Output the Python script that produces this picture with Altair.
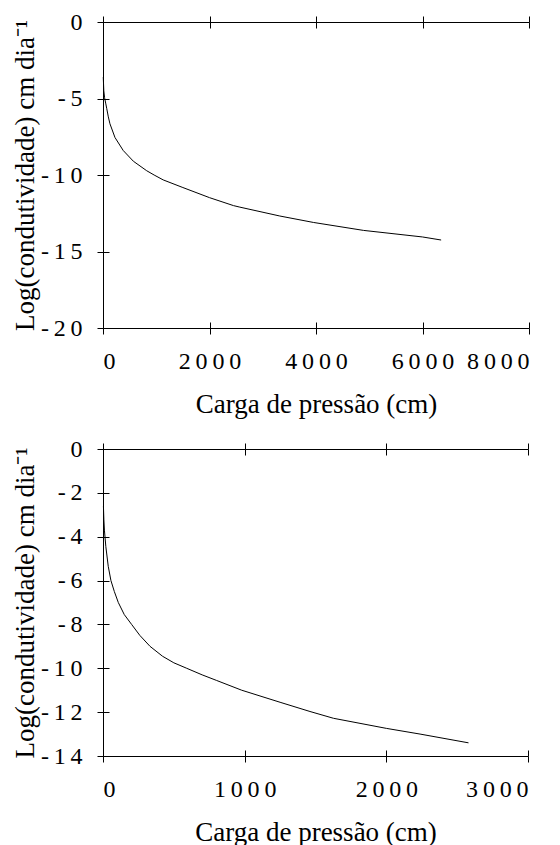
import altair as alt
import pandas as pd

# ---- data ----
top_pressure = [5, 15, 30, 50, 70, 100, 130, 225, 380, 570, 820, 960, 1130, 1500, 2000, 2450, 2570, 3320, 3950, 4890, 6000, 6350]
top_logk = [-3.6, -4.5, -4.95, -5.3, -5.65, -6.2, -6.65, -7.55, -8.4, -9.1, -9.72, -10.0, -10.32, -10.82, -11.48, -12.0, -12.1, -12.68, -13.1, -13.62, -14.05, -14.25]

bot_pressure = [3, 6, 10, 20, 37, 56, 80, 108, 150, 202, 260, 332, 420, 500, 591, 700, 800, 979, 1250, 1461, 1627, 2000, 2238, 2580]
bot_logk = [-2.6, -3.2, -3.7, -4.45, -5.35, -6.0, -6.5, -7.0, -7.55, -8.0, -8.5, -9.0, -9.45, -9.75, -10.0, -10.3, -10.55, -11.0, -11.55, -11.97, -12.28, -12.74, -13.0, -13.4]

top_xticks = [0, 2000, 4000, 6000, 8000]
top_yticks = [0, -5, -10, -15, -20]
bot_xticks = [0, 1000, 2000, 3000]
bot_yticks = [0, -2, -4, -6, -8, -10, -12, -14]

x_title = "Carga de pressão (cm)"
y_title = "Log(condutividade) cm dia\u207b\u00b9"

FONT = "Liberation Serif"
LAB = "join(split(toString(datum.value), ''), '\u2009')"
common = dict(grid=False, domainColor="black", tickColor="black", domainWidth=1, tickWidth=1)


def panel(xs, ys, xticks, yticks, w, h):
    df = pd.DataFrame({"x": xs, "y": ys})
    sx = alt.Scale(domain=[min(xticks), max(xticks)], nice=False, zero=False)
    sy = alt.Scale(domain=[min(yticks), max(yticks)], nice=False, zero=False)
    base = alt.Chart(df)
    main = base.mark_line(color="black", strokeWidth=1).encode(
        x=alt.X("x:Q", scale=sx, axis=alt.Axis(
            orient="bottom", values=xticks, labelExpr=LAB, tickSize=6, labelPadding=15,
            labelFontSize=24, labelFont=FONT, labelColor="black",
            title=x_title, titleFontSize=27, titleFont=FONT, titleFontWeight="normal",
            titleColor="black", titleBaseline="alphabetic", titleY=84, **common)),
        y=alt.Y("y:Q", scale=sy, axis=alt.Axis(
            orient="left", values=yticks, labelExpr=LAB, tickSize=6, labelPadding=15,
            labelFontSize=24, labelFont=FONT, labelColor="black",
            title=y_title, titleFontSize=27, titleFont=FONT, titleFontWeight="normal",
            titleColor="black", titleBaseline="alphabetic", titleX=-70, **common)),
    )
    inner = base.mark_line(opacity=0).encode(
        x=alt.X("x:Q", scale=sx, axis=alt.Axis(
            orient="bottom", offset=-6, values=xticks, tickSize=6, domain=False,
            labels=False, title=None, **common)),
        y=alt.Y("y:Q", scale=sy, axis=alt.Axis(
            orient="left", offset=-6, values=yticks, tickSize=6, domain=False,
            labels=False, title=None, **common)),
    )
    topax = base.mark_line(opacity=0).encode(
        x=alt.X("x:Q", scale=sx, axis=alt.Axis(
            orient="top", values=xticks, tickSize=6, labels=False, title=None, **common)),
        y=alt.Y("y:Q", scale=sy, axis=None),
    )
    topin = base.mark_line(opacity=0).encode(
        x=alt.X("x:Q", scale=sx, axis=alt.Axis(
            orient="top", offset=-6, values=xticks, tickSize=6, domain=False,
            labels=False, title=None, **common)),
        y=alt.Y("y:Q", scale=sy, axis=None),
    )
    return alt.layer(main, inner, topax, topin).resolve_axis(
        x="independent", y="independent").properties(width=w, height=h)


top = panel(top_pressure, top_logk, top_xticks, top_yticks, 426, 306)
bottom = panel(bot_pressure, bot_logk, bot_xticks, bot_yticks, 425, 307)

chart = alt.vconcat(top, bottom, spacing=20).properties(
    padding={"left": 3, "top": 2, "right": 0, "bottom": 0}
).configure(background="white").configure_view(stroke=None)

chart.save("out.html", embed_options={"renderer": "svg", "actions": False})
